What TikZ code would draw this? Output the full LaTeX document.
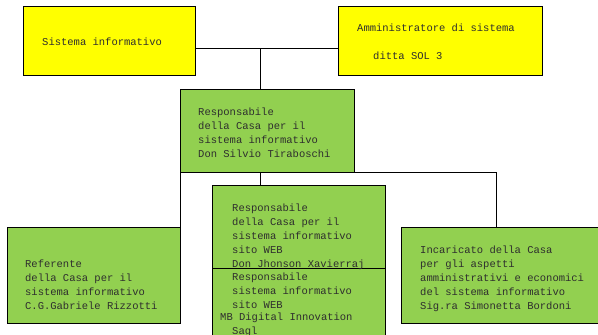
\documentclass[tikz,border=0pt]{standalone}
\usepackage{fontspec}
\setmonofont{Liberation Mono}
\definecolor{ybox}{HTML}{FFFF00}
\definecolor{gbox}{HTML}{92D050}
\definecolor{txt}{HTML}{2E2E2E}
\begin{document}
\begin{tikzpicture}[x=1pt,y=-1pt,
  box/.style={draw=black,line width=0.8pt,anchor=north west,inner sep=0pt,outer sep=0pt},
  ybx/.style={box,fill=ybox},
  gbx/.style={box,fill=gbox},
  lbl/.style={anchor=west,inner sep=0pt,font=\ttfamily\fontsize{10.5}{14}\selectfont,text=txt,align=left},
  wire/.style={line width=0.8pt,black}]
\useasboundingbox (0,0) rectangle (598,335);
\clip (0,0) rectangle (598,335);
% boxes
\node[ybx,minimum width=172pt,minimum height=69pt] (sis) at (23,6) {};
\node[ybx,minimum width=204pt,minimum height=69pt] (adm) at (338,6) {};
\node[gbx,minimum width=174pt,minimum height=83pt] (resp) at (180,89) {};
\node[gbx,minimum width=173pt,minimum height=96pt] (ref) at (7,227) {};
\node[gbx,minimum width=173pt,minimum height=83pt] (web) at (212,185) {};
\node[gbx,minimum width=173pt,minimum height=80pt] (mb) at (212,268) {};
\node[gbx,minimum width=200pt,minimum height=96pt] (inc) at (401,227) {};
% junction coordinates
\coordinate (J) at (260,48);
\coordinate (K) at (496,172);
% connectors
\draw[wire] (J -| sis.east) -- (J -| adm.west);
\draw[wire] (J) -- (J |- resp.north);
\draw[wire] (J |- resp.south) -- (J |- web.north);
\draw[wire] (resp.south east) -- (K) -- (K |- inc.north);
\draw[wire] (resp.south west) -- (ref.north east);
% texts
\node[lbl] (t1) at (42,42) {Sistema informativo};
\node[lbl] (t2a) at (357,28) {Amministratore di sistema};
\node[lbl] (t2b) at (373,56) {ditta SOL 3};
\node[lbl,anchor=north west] (t3) at (198,107.5) {Responsabile\\della Casa per il\\sistema informativo\\Don Silvio Tiraboschi};
\node[lbl,anchor=north west] (t4) at (232,204) {Responsabile\\della Casa per il\\sistema informativo\\sito WEB\\Don Jhonson Xavierraj};
\node[lbl,anchor=north west] (t5) at (232,273) {Responsabile\\sistema informativo\\sito WEB};
\node[lbl] (t5b) at (220,318) {MB Digital Innovation};
\node[lbl] (t5c) at (232,332) {Sagl};
\node[lbl,anchor=north west] (t6) at (25,260) {Referente\\della Casa per il\\sistema informativo\\C.G.Gabriele Rizzotti};
\node[lbl,anchor=north west] (t7) at (420,246) {Incaricato della Casa\\per gli aspetti\\amministrativi e economici\\del sistema informativo\\Sig.ra Simonetta Bordoni};
\end{tikzpicture}
\end{document}
